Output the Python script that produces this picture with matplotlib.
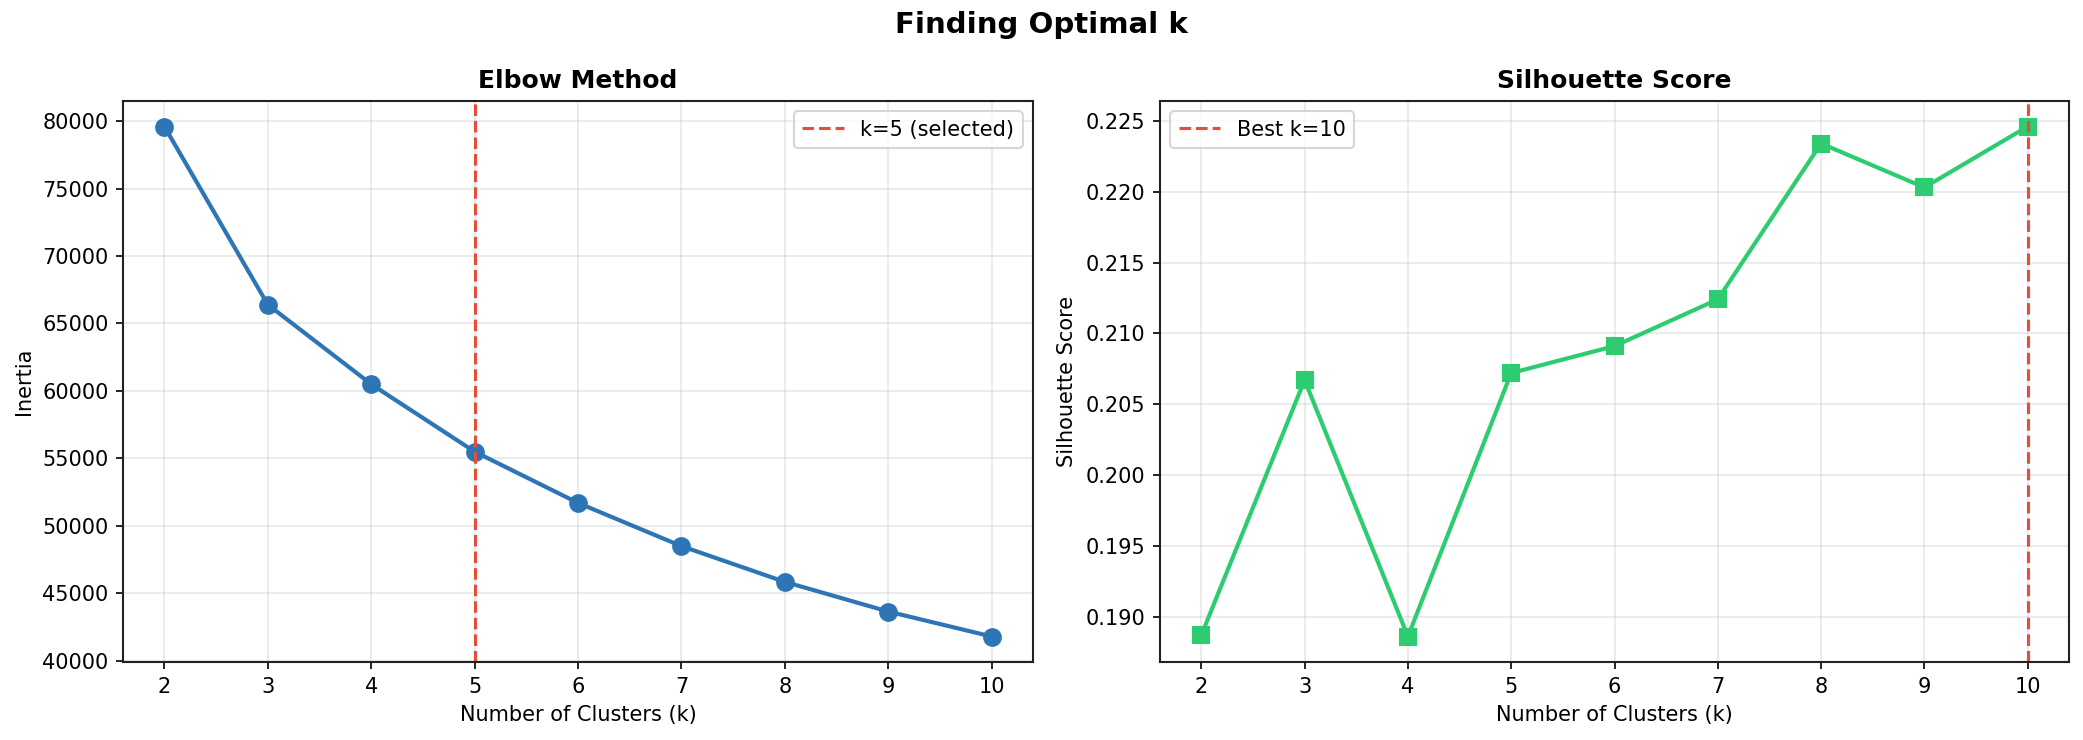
import numpy as np
import matplotlib.pyplot as plt

k_values = [2, 3, 4, 5, 6, 7, 8, 9, 10]
inertia = [79600, 66400, 60500, 55500, 51700, 48500, 45850, 43650, 41800]
silhouette = [0.1887, 0.2067, 0.1886, 0.2072, 0.2091, 0.2124, 0.2234, 0.2203, 0.2246]
selected_k = 5
best_k = 10

fig = plt.figure(figsize=(2083 / 150, 740 / 150), dpi=150)
ax1 = fig.add_axes([123 / 2083, 1 - 662 / 740, (1033 - 123) / 2083, (662 - 101) / 740])
ax2 = fig.add_axes([1160 / 2083, 1 - 662 / 740, (2069 - 1160) / 2083, (662 - 101) / 740])

# elbow
ax1.plot(k_values, inertia, 'o-', color='#2E75B6', linewidth=2, markersize=8)
ax1.axvline(x=selected_k, color='#E74C3C', linestyle='--', linewidth=1.5,
            label=f'k={selected_k} (selected)')
ax1.set_xlabel('Number of Clusters (k)')
ax1.set_ylabel('Inertia')
ax1.set_title('Elbow Method', fontsize=12, fontweight='bold')
ax1.set_xticks(k_values)
ax1.grid(True, alpha=0.3)
ax1.legend(loc='upper right')

# silhouette
ax2.plot(k_values, silhouette, 's-', color='#2ECC71', linewidth=2, markersize=8)
ax2.axvline(x=best_k, color='#E74C3C', linestyle='--', linewidth=1.5,
            label=f'Best k={best_k}')
ax2.set_xlabel('Number of Clusters (k)')
ax2.set_ylabel('Silhouette Score')
ax2.set_title('Silhouette Score', fontsize=12, fontweight='bold')
ax2.set_xticks(k_values)
ax2.grid(True, alpha=0.3)
ax2.legend(loc='upper left')

for ax in (ax1, ax2):
    for s in ax.spines.values():
        s.set_color('#222222')
        s.set_linewidth(1.0)

fig.suptitle('Finding Optimal k', fontsize=14, fontweight='bold', y=0.985)
fig.savefig('out.png', dpi=150)
